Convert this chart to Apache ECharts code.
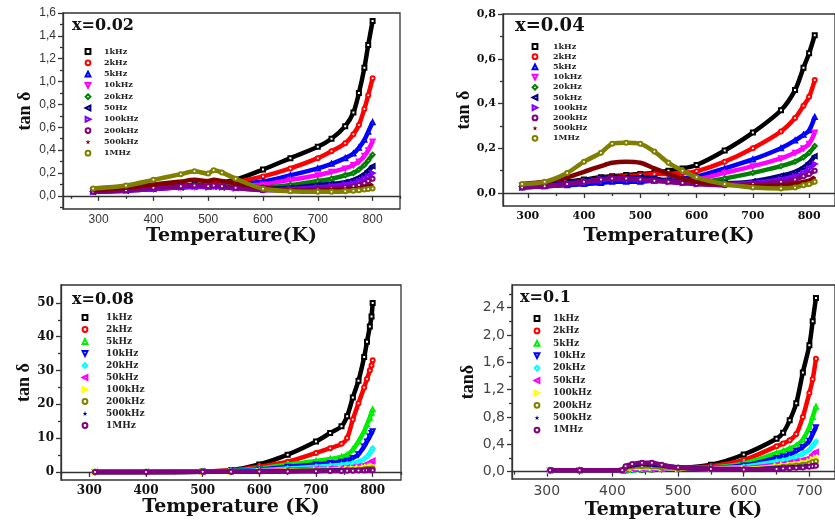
<!DOCTYPE html>
<html>
<head>
<meta charset="utf-8">
<title>tan δ vs temperature</title>
<script src="https://cdn.jsdelivr.net/npm/echarts@6/dist/echarts.min.js"></script>
<style>
  html, body { margin: 0; padding: 0; background: #fff; }
  #chart { width: 835px; height: 525px; }
</style>
</head>
<body>
<div id="chart"></div>
<script>
// ---- data ----
const freqNames = ['1kHz', '2kHz', '5kHz', '10kHz', '20kHz', '50kHz', '100kHz', '200kHz', '500kHz', '1MHz'];
// the x=0.02 panel legend says "50Hz"
const freqNames002 = ['1kHz', '2kHz', '5kHz', '10kHz', '20kHz', '50Hz', '100kHz', '200kHz', '500kHz', '1MHz'];

// x = 0.02
const temps002 = [290, 350, 400, 450, 475, 500, 510, 525, 550, 600, 650, 700, 725, 750, 765, 775, 785, 792, 800];
const tan002 = [
  [0.05, 0.06, 0.075, 0.09, 0.095, 0.10, 0.11, 0.12, 0.14, 0.23, 0.33, 0.43, 0.50, 0.61, 0.73, 0.90, 1.12, 1.32, 1.53],
  [0.045, 0.055, 0.07, 0.085, 0.09, 0.095, 0.10, 0.11, 0.12, 0.17, 0.24, 0.33, 0.39, 0.46, 0.54, 0.62, 0.76, 0.88, 1.03],
  [0.04, 0.05, 0.065, 0.08, 0.085, 0.09, 0.09, 0.095, 0.10, 0.125, 0.18, 0.24, 0.28, 0.33, 0.37, 0.42, 0.49, 0.56, 0.645],
  [0.04, 0.05, 0.06, 0.075, 0.08, 0.085, 0.085, 0.085, 0.09, 0.10, 0.14, 0.18, 0.21, 0.24, 0.27, 0.30, 0.35, 0.40, 0.475],
  [0.04, 0.05, 0.065, 0.08, 0.085, 0.085, 0.085, 0.085, 0.08, 0.075, 0.095, 0.13, 0.15, 0.18, 0.20, 0.23, 0.27, 0.31, 0.36],
  [0.035, 0.045, 0.06, 0.075, 0.08, 0.08, 0.08, 0.075, 0.07, 0.06, 0.07, 0.095, 0.105, 0.12, 0.14, 0.16, 0.19, 0.22, 0.26],
  [0.035, 0.045, 0.06, 0.075, 0.08, 0.075, 0.08, 0.075, 0.065, 0.055, 0.06, 0.075, 0.085, 0.10, 0.11, 0.13, 0.15, 0.17, 0.20],
  [0.035, 0.05, 0.07, 0.085, 0.09, 0.085, 0.09, 0.085, 0.07, 0.05, 0.05, 0.06, 0.065, 0.075, 0.085, 0.095, 0.11, 0.13, 0.15],
  [0.05, 0.07, 0.10, 0.125, 0.14, 0.13, 0.14, 0.13, 0.11, 0.07, 0.05, 0.045, 0.05, 0.055, 0.06, 0.065, 0.075, 0.085, 0.095],
  [0.065, 0.09, 0.14, 0.19, 0.215, 0.195, 0.225, 0.205, 0.15, 0.062, 0.04, 0.035, 0.035, 0.04, 0.045, 0.05, 0.055, 0.06, 0.065]
];

// x = 0.04
const temps004 = [290, 330, 370, 400, 430, 450, 475, 500, 525, 550, 575, 600, 650, 700, 750, 775, 790, 800, 810];
const tan004 = [
  [0.035, 0.04, 0.05, 0.06, 0.07, 0.075, 0.08, 0.085, 0.09, 0.10, 0.11, 0.125, 0.19, 0.27, 0.37, 0.46, 0.56, 0.625, 0.705],
  [0.03, 0.035, 0.045, 0.055, 0.065, 0.07, 0.075, 0.08, 0.085, 0.085, 0.09, 0.097, 0.14, 0.20, 0.275, 0.335, 0.39, 0.43, 0.505],
  [0.025, 0.03, 0.035, 0.04, 0.045, 0.05, 0.05, 0.05, 0.055, 0.06, 0.065, 0.074, 0.11, 0.15, 0.20, 0.235, 0.26, 0.28, 0.34],
  [0.03, 0.035, 0.045, 0.05, 0.06, 0.065, 0.065, 0.065, 0.06, 0.055, 0.055, 0.06, 0.09, 0.12, 0.155, 0.18, 0.20, 0.22, 0.27],
  [0.03, 0.035, 0.045, 0.055, 0.06, 0.065, 0.07, 0.065, 0.06, 0.055, 0.05, 0.048, 0.065, 0.09, 0.12, 0.14, 0.16, 0.18, 0.21],
  [0.03, 0.035, 0.045, 0.055, 0.065, 0.07, 0.07, 0.07, 0.065, 0.055, 0.05, 0.045, 0.045, 0.052, 0.077, 0.095, 0.115, 0.135, 0.165],
  [0.025, 0.03, 0.04, 0.05, 0.06, 0.065, 0.065, 0.06, 0.055, 0.05, 0.045, 0.04, 0.04, 0.045, 0.06, 0.075, 0.09, 0.11, 0.13],
  [0.025, 0.03, 0.04, 0.05, 0.06, 0.065, 0.065, 0.06, 0.055, 0.05, 0.045, 0.04, 0.035, 0.04, 0.05, 0.06, 0.075, 0.085, 0.10],
  [0.04, 0.05, 0.07, 0.095, 0.12, 0.135, 0.14, 0.135, 0.11, 0.085, 0.065, 0.05, 0.04, 0.03, 0.035, 0.04, 0.05, 0.055, 0.07],
  [0.04, 0.05, 0.09, 0.14, 0.18, 0.22, 0.225, 0.22, 0.185, 0.135, 0.10, 0.07, 0.04, 0.025, 0.02, 0.025, 0.035, 0.04, 0.05]
];

// x = 0.08
const temps008 = [310, 400, 500, 550, 600, 650, 700, 725, 745, 755, 765, 775, 785, 790, 795, 798, 800];
const tan008 = [
  [0, 0, 0.1, 0.5, 2.2, 5.1, 9, 11.5, 13.5, 16.5, 22, 27, 34, 38.5, 43, 46, 50],
  [0, 0, 0.1, 0.4, 1.5, 3, 5.6, 7, 8.3, 10, 15.5, 20.3, 25, 27.5, 30, 31.5, 33],
  [0, 0, 0.05, 0.3, 1, 2.2, 3.2, 3.8, 4.4, 5, 6.6, 9, 12, 14, 16, 17.5, 18.5],
  [0, 0, 0.05, 0.2, 0.7, 1.5, 2.2, 2.6, 3, 3.3, 4.1, 5.2, 7.5, 9, 10.5, 11.5, 12],
  [0, 0, 0.03, 0.15, 0.5, 1, 1.5, 1.8, 2.1, 2.3, 2.6, 3, 3.8, 4.5, 5.5, 6.3, 7],
  [0, 0, 0.02, 0.1, 0.3, 0.6, 0.9, 1, 1.1, 1.25, 1.4, 1.6, 2, 2.3, 2.7, 3, 3.3],
  [0, 0, 0.02, 0.08, 0.2, 0.4, 0.6, 0.7, 0.8, 0.9, 1, 1.1, 1.3, 1.4, 1.5, 1.6, 1.7],
  [0, 0, 0.01, 0.05, 0.15, 0.3, 0.45, 0.5, 0.55, 0.6, 0.65, 0.7, 0.8, 0.85, 0.9, 0.95, 1.0],
  [0, 0, 0.01, 0.04, 0.1, 0.2, 0.3, 0.35, 0.4, 0.42, 0.45, 0.5, 0.55, 0.6, 0.62, 0.65, 0.7],
  [0, 0, 0.01, 0.03, 0.08, 0.15, 0.22, 0.26, 0.3, 0.32, 0.35, 0.38, 0.42, 0.45, 0.47, 0.49, 0.5]
];

// x = 0.1
const temps01 = [305, 350, 415, 420, 430, 445, 460, 475, 500, 550, 600, 650, 660, 670, 680, 690, 700, 705, 710];
const tan01 = [
  [0.02, 0.02, 0.02, 0.02, 0.025, 0.03, 0.035, 0.04, 0.05, 0.10, 0.25, 0.48, 0.57, 0.75, 1.0, 1.45, 1.85, 2.2, 2.54],
  [0.02, 0.02, 0.02, 0.02, 0.025, 0.03, 0.035, 0.04, 0.05, 0.08, 0.17, 0.37, 0.41, 0.46, 0.55, 0.8, 1.15, 1.35, 1.65],
  [0.02, 0.02, 0.02, 0.02, 0.025, 0.03, 0.035, 0.04, 0.045, 0.06, 0.12, 0.27, 0.30, 0.34, 0.38, 0.47, 0.65, 0.8, 0.95],
  [0.02, 0.02, 0.02, 0.025, 0.03, 0.035, 0.04, 0.04, 0.045, 0.055, 0.09, 0.20, 0.22, 0.25, 0.30, 0.36, 0.45, 0.55, 0.65],
  [0.02, 0.02, 0.02, 0.03, 0.035, 0.04, 0.045, 0.045, 0.045, 0.05, 0.07, 0.15, 0.165, 0.19, 0.22, 0.26, 0.32, 0.38, 0.44],
  [0.02, 0.02, 0.02, 0.035, 0.045, 0.05, 0.05, 0.05, 0.045, 0.045, 0.05, 0.10, 0.11, 0.13, 0.15, 0.17, 0.20, 0.25, 0.29],
  [0.02, 0.02, 0.02, 0.04, 0.055, 0.06, 0.06, 0.055, 0.045, 0.04, 0.04, 0.08, 0.09, 0.10, 0.11, 0.13, 0.15, 0.18, 0.20],
  [0.02, 0.02, 0.02, 0.05, 0.07, 0.08, 0.075, 0.065, 0.05, 0.04, 0.03, 0.06, 0.07, 0.08, 0.09, 0.10, 0.12, 0.14, 0.15],
  [0.02, 0.02, 0.02, 0.07, 0.09, 0.11, 0.105, 0.09, 0.06, 0.04, 0.03, 0.05, 0.055, 0.06, 0.065, 0.07, 0.08, 0.09, 0.10],
  [0.02, 0.02, 0.02, 0.08, 0.11, 0.13, 0.13, 0.10, 0.06, 0.04, 0.03, 0.04, 0.045, 0.05, 0.055, 0.06, 0.07, 0.08, 0.085]
];

// tick labels (major) and minor tick positions
const xTicks800 = [300, 400, 500, 600, 700, 800];
const xTicks700 = [300, 400, 500, 600, 700];
const xMinor = [250, 350, 450, 550, 650, 750, 850];
const yTicks002 = [0, 0.2, 0.4, 0.6, 0.8, 1.0, 1.2, 1.4, 1.6];
const yMinor002 = [-0.1, 0.1, 0.3, 0.5, 0.7, 0.9, 1.1, 1.3, 1.5];
const yTicks004 = [0, 0.2, 0.4, 0.6, 0.8];
const yMinor004 = [0.1, 0.3, 0.5, 0.7];
const yTicks008 = [0, 10, 20, 30, 40, 50];
const yMinor008 = [5, 15, 25, 35, 45];
const yTicks01 = [0, 0.4, 0.8, 1.2, 1.6, 2.0, 2.4];
const yMinor01 = [0.2, 0.6, 1.0, 1.4, 1.8, 2.2, 2.6];

// ---- styles ----
const coloursA = ['#000000', '#ff0000', '#0000ff', '#ff00ff', '#008000', '#000080', '#8000ff', '#800080', '#800000', '#808000'];
const coloursB = ['#000000', '#ff0000', '#00ee00', '#0000ff', '#00ffff', '#ff00ff', '#ffff00', '#808000', '#000080', '#800080'];
const STAR = 'path://M50,2 L62,38 L99,38 L69,60 L80,96 L50,74 L20,96 L31,60 L1,38 L38,38 Z';
const symbols = ['emptyRect', 'emptyCircle', 'emptyTriangle', 'emptyTriangle', 'emptyDiamond',
  'emptyTriangle', 'emptyTriangle', 'emptyCircle', STAR, 'emptyCircle'];
const symbolRot = [0, 0, 0, 180, 0, 90, -90, 0, 0, 0];

const SERIF_B = 'DejaVu Serif';
const comma = d => v => v.toFixed(d).replace('.', ',');

const panels = [
  {
    tag: 'x=0.02', temps: temps002, vals: tan002, names: freqNames002, colours: coloursA,
    grid: { left: 63, top: 13, width: 337, height: 196 },
    xMin: 235, xMax: 850, yMin: -0.115, yMax: 1.6,
    xTicks: xTicks800, yTicks: yTicks002, yMinor: yMinor002, yFmt: comma(1),
    tickFont: { fontFamily: 'Liberation Sans', fontSize: 12, color: '#333' },
    xName: 'Temperature(K)', xGap: 18, yName: 'tan δ', yGap: 29,
    tagPos: [72, 28], tagSize: 16,
    legend: { left: 77, top: 47, itemWidth: 22, step: 11.3, fontSize: 8 }
  },
  {
    tag: 'x=0.04', temps: temps004, vals: tan004, names: freqNames, colours: coloursA,
    grid: { left: 503, top: 14, width: 335, height: 192 },
    xMin: 256, xMax: 846, yMin: -0.058, yMax: 0.8,
    xTicks: xTicks800, yTicks: yTicks004, yMinor: yMinor004, yFmt: comma(1),
    tickFont: { fontFamily: SERIF_B, fontWeight: 'bold', fontSize: 11, color: '#111' },
    xName: 'Temperature(K)', xGap: 21, yName: 'tan δ', yGap: 29,
    tagPos: [515, 28], tagSize: 18,
    legend: { left: 522, top: 42, itemWidth: 26, step: 10.2, fontSize: 8 }
  },
  {
    tag: 'x=0.08', temps: temps008, vals: tan008, names: freqNames, colours: coloursB,
    grid: { left: 61, top: 285, width: 340, height: 195 },
    xMin: 250, xMax: 850, yMin: -2.4, yMax: 55.3,
    xTicks: xTicks800, yTicks: yTicks008, yMinor: yMinor008, yFmt: v => String(v),
    tickFont: { fontFamily: SERIF_B, fontWeight: 'bold', fontSize: 12, color: '#111' },
    xName: 'Temperature (K)', xGap: 17, yName: 'tan δ', yGap: 27,
    tagPos: [72, 302], tagSize: 16,
    legend: { left: 69, top: 313, itemWidth: 32, step: 12, fontSize: 9 }
  },
  {
    tag: 'x=0.1', temps: temps01, vals: tan01, names: freqNames, colours: coloursB,
    grid: { left: 512, top: 285, width: 326, height: 194 },
    xMin: 247, xMax: 739, yMin: -0.108, yMax: 2.73,
    xTicks: xTicks700, yTicks: yTicks01, yMinor: yMinor01, yFmt: comma(1),
    tickFont: { fontFamily: 'DejaVu Sans', fontSize: 14, color: '#444' },
    xName: 'Temperature (K)', xGap: 22, yName: 'tanδ', yGap: 35,
    tagPos: [520, 300], tagSize: 16,
    legend: { left: 526, top: 314, itemWidth: 22, step: 12.4, fontSize: 9 }
  }
];

const axisLineStyle = { color: '#333', width: 1.3 };
const grid = [], xAxis = [], yAxis = [], series = [], legend = [], graphic = [];

panels.forEach((p, pi) => {
  grid.push(Object.assign({ show: true, borderColor: '#333', borderWidth: 1.3, backgroundColor: '#fff' }, p.grid));

  // main axes: labels + major ticks
  xAxis.push({
    type: 'value', gridIndex: pi, min: p.xMin, max: p.xMax,
    axisLine: { lineStyle: axisLineStyle },
    axisTick: { show: true, length: 5, lineStyle: axisLineStyle, customValues: p.xTicks },
    axisLabel: Object.assign({ margin: 5, customValues: p.xTicks }, p.tickFont),
    splitLine: { show: false },
    name: p.xName, nameLocation: 'middle', nameGap: p.xGap,
    nameTextStyle: { fontFamily: SERIF_B, fontWeight: 'bold', fontSize: 19, color: '#111' }
  });
  yAxis.push({
    type: 'value', gridIndex: pi, min: p.yMin, max: p.yMax,
    axisLine: { show: true, lineStyle: axisLineStyle },
    axisTick: { show: true, length: 5, lineStyle: axisLineStyle, customValues: p.yTicks },
    axisLabel: Object.assign({ margin: 7, customValues: p.yTicks, formatter: p.yFmt }, p.tickFont),
    splitLine: { show: false },
    name: p.yName, nameLocation: 'middle', nameGap: p.yGap,
    nameTextStyle: { fontFamily: 'Liberation Serif', fontWeight: 'bold', fontSize: 18, color: '#111' }
  });

  const ids = [];
  p.vals.forEach((row, k) => {
    const id = p.names[k] + '#' + pi;
    ids.push(id);
    series.push({
      type: 'line', name: id, xAxisIndex: pi, yAxisIndex: pi,
      data: p.temps.map((t, i) => [t, row[i]]),
      smooth: 0.3,
      symbol: symbols[k], symbolRotate: symbolRot[k], symbolSize: 4,
      showAllSymbol: true,
      itemStyle: { color: p.colours[k], borderWidth: 1 },
      lineStyle: { color: p.colours[k], width: 4.5 },
      emphasis: { disabled: true },
      z: 2 + k
    });
  });

  const L = p.legend;
  legend.push({
    orient: 'vertical', left: L.left, top: L.top, padding: 0,
    data: ids, selectedMode: false,
    itemWidth: L.itemWidth, itemHeight: 6, itemGap: L.step - 9,
    lineStyle: { width: 0, opacity: 0 },
    formatter: n => n.split('#')[0],
    textStyle: { fontFamily: SERIF_B, fontWeight: 'bold', fontSize: L.fontSize, lineHeight: 9, color: '#222' }
  });

  graphic.push({
    type: 'text', left: p.tagPos[0], top: p.tagPos[1] - p.tagSize * 0.62,
    style: { text: p.tag, fontFamily: SERIF_B, fontWeight: 'bold', fontSize: p.tagSize, fill: '#111' }
  });
});

// minor-tick axes (no line, no labels), one x and one y per panel
panels.forEach((p, pi) => {
  xAxis.push({
    type: 'value', gridIndex: pi, min: p.xMin, max: p.xMax, position: 'bottom',
    axisLine: { show: false },
    axisTick: { show: true, length: 3, lineStyle: axisLineStyle, customValues: xMinor.filter(v => v >= p.xMin && v <= p.xMax) },
    axisLabel: { show: false }, splitLine: { show: false }
  });
  yAxis.push({
    type: 'value', gridIndex: pi, min: p.yMin, max: p.yMax, position: 'left',
    axisLine: { show: false },
    axisTick: { show: true, length: 3, lineStyle: axisLineStyle, customValues: p.yMinor.filter(v => v >= p.yMin && v <= p.yMax) },
    axisLabel: { show: false }, splitLine: { show: false }
  });
});

const chart = echarts.init(document.getElementById('chart'));
chart.setOption({
  backgroundColor: '#fff',
  animation: false,
  grid, xAxis, yAxis, series, legend, graphic
});
</script>
</body>
</html>
